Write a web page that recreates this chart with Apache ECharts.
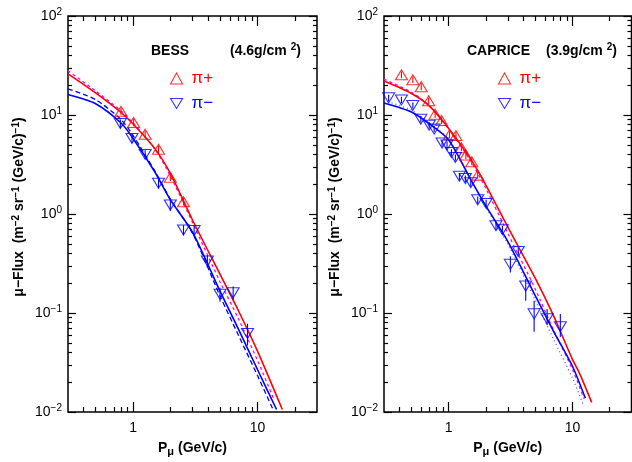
<!DOCTYPE html>
<html>
<head>
<meta charset="utf-8">
<script src="https://cdn.jsdelivr.net/npm/echarts@6.0.0/dist/echarts.min.js"></script>
<style>
  html, body { margin: 0; padding: 0; background: #fff; }
  #chart { width: 632px; height: 462px; }
</style>
</head>
<body>
<div id="chart"></div>
<script>
// ---- BESS (4.6 g/cm2) ----
const bessPipX = [0.80, 1.01, 1.25, 1.60, 1.99, 2.54];
const bessPipY = [10.9, 8.4, 6.4, 4.5, 2.35, 1.33];
const bessPipLo = [10.0, 7.7, 5.9, 4.1, 2.15, 1.22];
const bessPipHi = [11.8, 9.1, 6.9, 4.9, 2.55, 1.45];
const bessPimX = [0.79, 0.98, 1.25, 1.60, 1.99, 2.54, 3.09, 3.95, 4.99, 6.36, 8.3];
const bessPimY = [8.2, 5.8, 4.0, 2.05, 1.23, 0.69, 0.68, 0.335, 0.155, 0.16, 0.062];
const bessPimLo = [7.4, 5.2, 3.6, 1.8, 1.08, 0.61, 0.61, 0.29, 0.13, 0.135, 0.047];
const bessPimHi = [9.0, 6.4, 4.4, 2.3, 1.38, 0.77, 0.75, 0.38, 0.18, 0.185, 0.078];

const bessRedX = [0.3, 0.5, 0.8, 1, 1.5, 2, 3, 5, 7, 10, 15.8];
const bessRedY = [26, 16.7, 10.6, 8.1, 4.55, 2.55, 0.87, 0.245, 0.106, 0.041, 0.0106];
const bessBlueX = [0.3, 0.5, 0.8, 1, 1.5, 2, 3, 5, 7, 10, 14.2];
const bessBlueY = [16.1, 13.0, 8.3, 5.8, 2.64, 1.38, 0.655, 0.165, 0.069, 0.0267, 0.0106];
const bessDashX = [0.3, 0.5, 0.8, 1, 1.5, 2, 3, 5, 7, 10, 13.3];
const bessDashY = [18.4, 14.3, 9.0, 6.2, 2.7, 1.4, 0.64, 0.148, 0.060, 0.0232, 0.0106];
const bessMagX = [0.3, 0.5, 0.8, 1, 1.5, 2, 3, 5, 7, 10, 13.5];
const bessMagY = [28, 17.5, 11.0, 8.3, 4.5, 2.4, 0.82, 0.206, 0.088, 0.033, 0.0135];

// ---- CAPRICE (3.9 g/cm2) ----
const capPipX = [0.415, 0.513, 0.60, 0.689, 0.777, 0.876, 1.015, 1.144, 1.266, 1.375, 1.536, 1.715];
const capPipY = [25.5, 22.7, 19.3, 13.9, 10.2, 8.8, 6.3, 6.2, 4.67, 3.95, 3.37, 2.47];
const capPipLo = [23.5, 21, 17.8, 12.8, 9.4, 8.1, 5.8, 5.7, 4.3, 3.6, 3.1, 2.27];
const capPipHi = [27.5, 24.5, 20.9, 15.0, 11.0, 9.5, 6.8, 6.7, 5.05, 4.3, 3.65, 2.67];
const capPimX = [0.327, 0.415, 0.513, 0.595, 0.696, 0.763, 0.884, 0.969, 1.053, 1.133, 1.22, 1.363,
  1.508, 1.715, 2.006, 2.41, 2.717, 3.15, 3.65, 4.19, 4.9, 6.24, 7.98];
const capPimY = [14.9, 14.2, 12.5, 9.06, 7.89, 7.2, 5.21, 4.98, 4.19, 3.73, 2.41, 2.28,
  2.07, 1.39, 1.28, 0.762, 0.695, 0.31, 0.419, 0.187, 0.098, 0.0875, 0.0728];
const capPimLo = [13.8, 13.2, 11.6, 8.4, 7.3, 6.7, 4.8, 4.6, 3.9, 3.45, 2.2, 2.1,
  1.9, 1.27, 1.17, 0.69, 0.63, 0.256, 0.38, 0.133, 0.0645, 0.0752, 0.0571];
const capPimHi = [16.0, 15.3, 13.4, 9.7, 8.5, 7.8, 5.6, 5.4, 4.5, 4.0, 2.6, 2.45,
  2.25, 1.5, 1.39, 0.83, 0.76, 0.375, 0.46, 0.219, 0.133, 0.11, 0.0977];

const capRedX = [0.3, 0.5, 0.7, 1, 1.5, 2, 3, 5, 7, 10, 11.5, 14.3];
const capRedY = [22, 16.5, 12.3, 7.3, 3.6, 1.95, 0.74, 0.225, 0.095, 0.034, 0.024, 0.0125];
const capBlueX = [0.3, 0.5, 0.7, 1, 1.5, 2, 3, 5, 7, 10, 12.7];
const capBlueY = [13.2, 10.7, 8.1, 5.6, 2.25, 1.2, 0.53, 0.15, 0.066, 0.029, 0.0138];
const capDotX = [0.3, 0.5, 0.7, 1, 1.5, 2, 3, 5, 7, 10, 12.4];
const capDotY = [14, 11.2, 8.3, 5.7, 2.25, 1.17, 0.5, 0.135, 0.055, 0.022, 0.0114];
const capMagX = [0.3, 0.5, 0.7, 1, 1.5, 2, 3, 5, 7, 10, 12.4];
const capMagY = [23, 17, 12.3, 7.2, 3.45, 1.8, 0.64, 0.175, 0.068, 0.027, 0.0136];

// ---- ticks ----
const xMajor = [1, 10];
const xMinor = [0.4, 0.5, 0.6, 0.7, 0.8, 0.9, 2, 3, 4, 5, 6, 7, 8, 9, 20];
const yMajor = [0.01, 0.1, 1, 10, 100];
const yExp = ['−2', '−1', '0', '1', '2'];
const yMinor = [0.02, 0.03, 0.04, 0.05, 0.06, 0.07, 0.08, 0.09,
  0.2, 0.3, 0.4, 0.5, 0.6, 0.7, 0.8, 0.9,
  2, 3, 4, 5, 6, 7, 8, 9,
  20, 30, 40, 50, 60, 70, 80, 90];

const RED = '#ff0000';
const BLUE = '#0000ff';
const MAG = '#ff00ff';
const FONT = 'Liberation Sans';

const supStyle = { fontSize: 10, fontFamily: FONT, padding: [0, 0, 7, 0] };

const tickLine = { color: '#000', width: 1.2 };

function xAxes(g) {
  const base = { type: 'log', gridIndex: g, min: 0.3, max: 30, splitLine: { show: false }, axisLine: { show: false } };
  return [
    Object.assign({}, base, {
      position: 'bottom',
      axisTick: { inside: true, length: 10, customValues: xMajor, lineStyle: tickLine },
      axisLabel: { customValues: xMajor, color: '#000', fontSize: 14, fontFamily: FONT, margin: 9,
        formatter: v => String(Math.round(v)) },
      name: 'P{sub|μ} (GeV/c)', nameLocation: 'middle', nameGap: 27,
      nameTextStyle: { color: '#000', fontSize: 14, fontWeight: 'bold', fontFamily: FONT,
        rich: { sub: { fontSize: 11, fontFamily: FONT, fontWeight: 'bold', padding: [7, 0, 0, 0] } } }
    }),
    Object.assign({}, base, { position: 'bottom',
      axisTick: { inside: true, length: 5, customValues: xMinor, lineStyle: tickLine }, axisLabel: { show: false } }),
    Object.assign({}, base, { position: 'top',
      axisTick: { inside: true, length: 10, customValues: xMajor, lineStyle: tickLine }, axisLabel: { show: false } }),
    Object.assign({}, base, { position: 'top',
      axisTick: { inside: true, length: 5, customValues: xMinor, lineStyle: tickLine }, axisLabel: { show: false } })
  ];
}

function yAxes(g) {
  const base = { type: 'log', gridIndex: g, min: 0.01, max: 100, splitLine: { show: false }, axisLine: { show: false } };
  return [
    Object.assign({}, base, {
      position: 'left',
      axisTick: { inside: true, length: 8, customValues: yMajor, lineStyle: tickLine },
      axisLabel: { customValues: yMajor, color: '#000', fontSize: 14, fontFamily: FONT, margin: 6,
        formatter: v => '10{s|' + yExp[yMajor.findIndex(m => Math.abs(m - v) / m < 1e-6)] + '}',
        rich: { s: supStyle } },
      name: 'μ−Flux  (m{s|−2} sr{s|−1} (GeV/c){s|−1})', nameLocation: 'middle', nameGap: 40, nameRotate: 90,
      nameTextStyle: { color: '#000', fontSize: 14, fontWeight: 'bold', fontFamily: FONT, padding: [0, 0, 0, 14],
        rich: { s: { fontSize: 10, fontWeight: 'bold', fontFamily: FONT, padding: [0, 0, 7, 0] } } }
    }),
    Object.assign({}, base, { position: 'left',
      axisTick: { inside: true, length: 4, customValues: yMinor, lineStyle: tickLine }, axisLabel: { show: false } }),
    Object.assign({}, base, { position: 'right',
      axisTick: { inside: true, length: 8, customValues: yMajor, lineStyle: tickLine }, axisLabel: { show: false } }),
    Object.assign({}, base, { position: 'right',
      axisTick: { inside: true, length: 4, customValues: yMinor, lineStyle: tickLine }, axisLabel: { show: false } })
  ];
}

function pairs(xs, ys) { return xs.map((x, i) => [x, ys[i]]); }

function curve(xs, ys, color, type, g) {
  return { type: 'line', xAxisIndex: g * 4, yAxisIndex: g * 4, data: pairs(xs, ys), showSymbol: false,
    smooth: 0.25, silent: true, z: 2, lineStyle: { color: color, width: type === 'solid' ? 1.6 : 1.3, type: type } };
}

function errBars(xs, lo, hi, color, g) {
  return { type: 'custom', xAxisIndex: g * 4, yAxisIndex: g * 4, silent: true, z: 3,
    data: xs.map((x, i) => [x, lo[i], hi[i]]),
    encode: { x: 0, y: [1, 2] },
    renderItem: (params, api) => {
      const a = api.coord([api.value(0), api.value(1)]);
      const b = api.coord([api.value(0), api.value(2)]);
      return { type: 'line', shape: { x1: a[0], y1: a[1], x2: b[0], y2: b[1] },
        style: { stroke: color, lineWidth: 1.1 } };
    } };
}

function points(name, xs, ys, color, up, g) {
  return { type: 'scatter', name: name, xAxisIndex: g * 4, yAxisIndex: g * 4, data: pairs(xs, ys),
    symbol: 'triangle', symbolSize: [12, 10], symbolRotate: up ? 0 : 180, z: 4,
    itemStyle: { color: 'rgba(0,0,0,0)', borderColor: color, borderWidth: 1.1 } };
}

function legendFor(left) {
  return { left: left, top: 65, orient: 'vertical', itemGap: 8, itemWidth: 12, itemHeight: 11,
    selectedMode: false,
    textStyle: { fontSize: 17, fontFamily: FONT, padding: [0, 0, 0, 4] },
    data: [
      { name: 'π+', icon: 'triangle', itemStyle: { color: 'rgba(0,0,0,0)', borderColor: RED, borderWidth: 1.1 },
        textStyle: { color: RED } },
      { name: 'π−', icon: 'path://M0,0L12,0L6,10Z', itemStyle: { color: 'rgba(0,0,0,0)', borderColor: BLUE, borderWidth: 1.1 },
        textStyle: { color: BLUE } }
    ] };
}

const labelRich = {
  b: { fontSize: 14, fontWeight: 'bold', fontFamily: FONT },
  s: { fontSize: 10, fontWeight: 'bold', fontFamily: FONT, padding: [0, 0, 7, 0] }
};

const chart = echarts.init(document.getElementById('chart'));
chart.setOption({
  animation: false,
  backgroundColor: '#fff',
  grid: [
    { left: 68, top: 16, width: 249, height: 400, show: true, borderColor: '#000', borderWidth: 1.5, backgroundColor: 'transparent' },
    { left: 384, top: 16, width: 247.5, height: 400, show: true, borderColor: '#000', borderWidth: 1.5, backgroundColor: 'transparent' }
  ],
  xAxis: xAxes(0).concat(xAxes(1)),
  yAxis: yAxes(0).concat(yAxes(1)),
  legend: [legendFor(165), legendFor(493)],
  graphic: [
    { type: 'text', x: 151, y: 51, style: { text: 'BESS', fontSize: 14, fontWeight: 'bold', fontFamily: FONT, fill: '#000', verticalAlign: 'middle' } },
    { type: 'text', x: 230, y: 51, style: { text: '{b|(4.6g/cm }{s|2}{b|)}', rich: labelRich, fill: '#000', verticalAlign: 'middle' } },
    { type: 'text', x: 467, y: 51, style: { text: 'CAPRICE', fontSize: 14, fontWeight: 'bold', fontFamily: FONT, fill: '#000', verticalAlign: 'middle' } },
    { type: 'text', x: 546, y: 51, style: { text: '{b|(3.9g/cm }{s|2}{b|)}', rich: labelRich, fill: '#000', verticalAlign: 'middle' } }
  ],
  series: [
    curve(bessMagX, bessMagY, MAG, [3, 3], 0),
    curve(bessDashX, bessDashY, BLUE, [5, 3], 0),
    curve(bessBlueX, bessBlueY, BLUE, 'solid', 0),
    curve(bessRedX, bessRedY, RED, 'solid', 0),
    errBars(bessPipX, bessPipLo, bessPipHi, RED, 0),
    errBars(bessPimX, bessPimLo, bessPimHi, BLUE, 0),
    points('π+', bessPipX, bessPipY, RED, true, 0),
    points('π−', bessPimX, bessPimY, BLUE, false, 0),

    curve(capMagX, capMagY, MAG, [3, 3], 1),
    curve(capDotX, capDotY, '#5555ff', [1, 3], 1),
    curve(capBlueX, capBlueY, BLUE, 'solid', 1),
    curve(capRedX, capRedY, RED, 'solid', 1),
    errBars(capPipX, capPipLo, capPipHi, RED, 1),
    errBars(capPimX, capPimLo, capPimHi, BLUE, 1),
    points('π+', capPipX, capPipY, RED, true, 1),
    points('π−', capPimX, capPimY, BLUE, false, 1)
  ]
});
</script>
</body>
</html>
